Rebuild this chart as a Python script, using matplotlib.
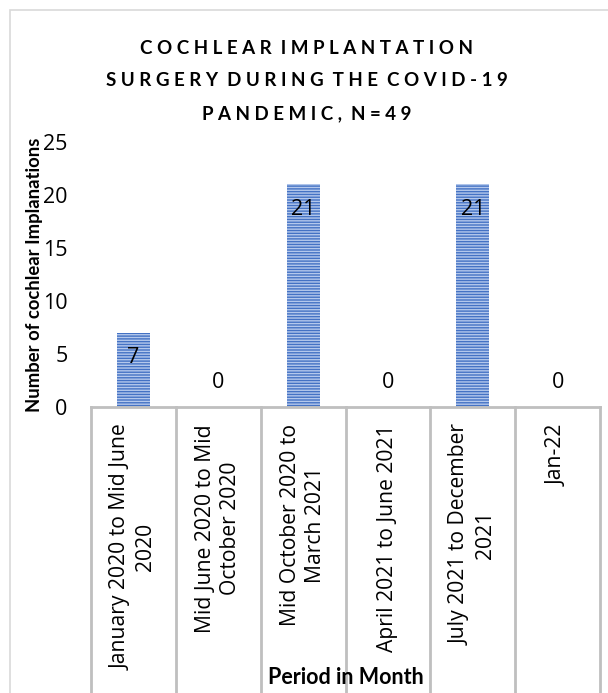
import matplotlib
matplotlib.use("Agg")
import matplotlib.pyplot as plt
import matplotlib.transforms as mtransforms
from matplotlib.patches import Rectangle

categories = [
    "January 2020 to Mid June\n2020",
    "Mid June 2020 to Mid\nOctober 2020",
    "Mid October 2020 to\nMarch 2021",
    "April 2021 to June 2021",
    "July 2021 to December\n2021",
    "Jan-22",
]
values = [7, 0, 21, 0, 21, 0]
yticks = [0, 5, 10, 15, 20, 25]
title_lines = ["COCHLEAR IMPLANTATION", "SURGERY DURING THE COVID-19", "PANDEMIC, N=49"]

plt.rcParams['font.family'] = ['Lato', 'DejaVu Sans']
plt.rcParams['hatch.linewidth'] = 1.0
body_font = ['Open Sans', 'DejaVu Sans']

W, H = 608, 693
fig = plt.figure(figsize=(W / 100, H / 100), dpi=100)

# outer chart border
fig.patches.append(Rectangle((10 / W, -0.01), 1.0, 1 - 10 / H + 0.01, transform=fig.transFigure,
                             fill=False, edgecolor='#D9D9D9', linewidth=1.2))

ax_left, ax_right, ax_bottom, ax_top = 91, 600, 407, 142
ax = fig.add_axes([ax_left / W, 1 - ax_bottom / H, (ax_right - ax_left) / W, (ax_bottom - ax_top) / H])

x = list(range(len(categories)))
bars = ax.bar(x, values, width=0.39, color='#4472C4', edgecolor='#B4C8EC', hatch='------', linewidth=0)
ax.set_xlim(-0.5, len(categories) - 0.5)
ax.set_ylim(0, 25)
ax.set_yticks(yticks)
ax.tick_params(axis='y', length=0, labelsize=15.5, pad=17, labelcolor='#000000')
for t in ax.get_yticklabels():
    t.set_family(body_font)
ax.set_xticks([])

for s in ['top', 'right', 'left']:
    ax.spines[s].set_visible(False)
ax.spines['bottom'].set_color('#BFBFBF')
ax.spines['bottom'].set_linewidth(2.0)

# category separators extending below axis
trans = mtransforms.blended_transform_factory(ax.transData, ax.transAxes)
for b in [i - 0.5 for i in range(len(categories) + 1)]:
    ax.plot([b, b], [0, -1.2], transform=trans, color='#BFBFBF', linewidth=2.0, clip_on=False)

# category labels (rotated)
for i, lab in enumerate(categories):
    ax.text(i, -0.065, lab, transform=trans, rotation=90, ha='center', va='top',
            multialignment='center', fontsize=15.2, linespacing=1.25, family=body_font)

# data labels
for i, v in enumerate(values):
    off = -25 if v > 0 else 25
    ax.annotate(str(v), (i, v), xytext=(0, off), textcoords='offset pixels',
                ha='center', va='center', fontsize=15.5, family=body_font)

ax.set_ylabel("Number of cochlear Implanations", fontsize=13.3, fontweight='bold')
ax.yaxis.set_label_coords(-0.095, 0.5)

fig.text((ax_left + ax_right) / 2 / W, 1 - 678 / H, "Period in Month", ha='center', va='center',
         fontsize=15.5, fontweight='bold')

# letter-spaced title
for k, line in enumerate(title_lines):
    spaced = " ".join(line).replace("   ", "  ")
    fig.text(307 / W, 1 - (48 + 33 * k) / H, spaced, ha='center', va='center', fontsize=13.5,
             fontweight='bold')

fig.savefig("out.png", dpi=100)
